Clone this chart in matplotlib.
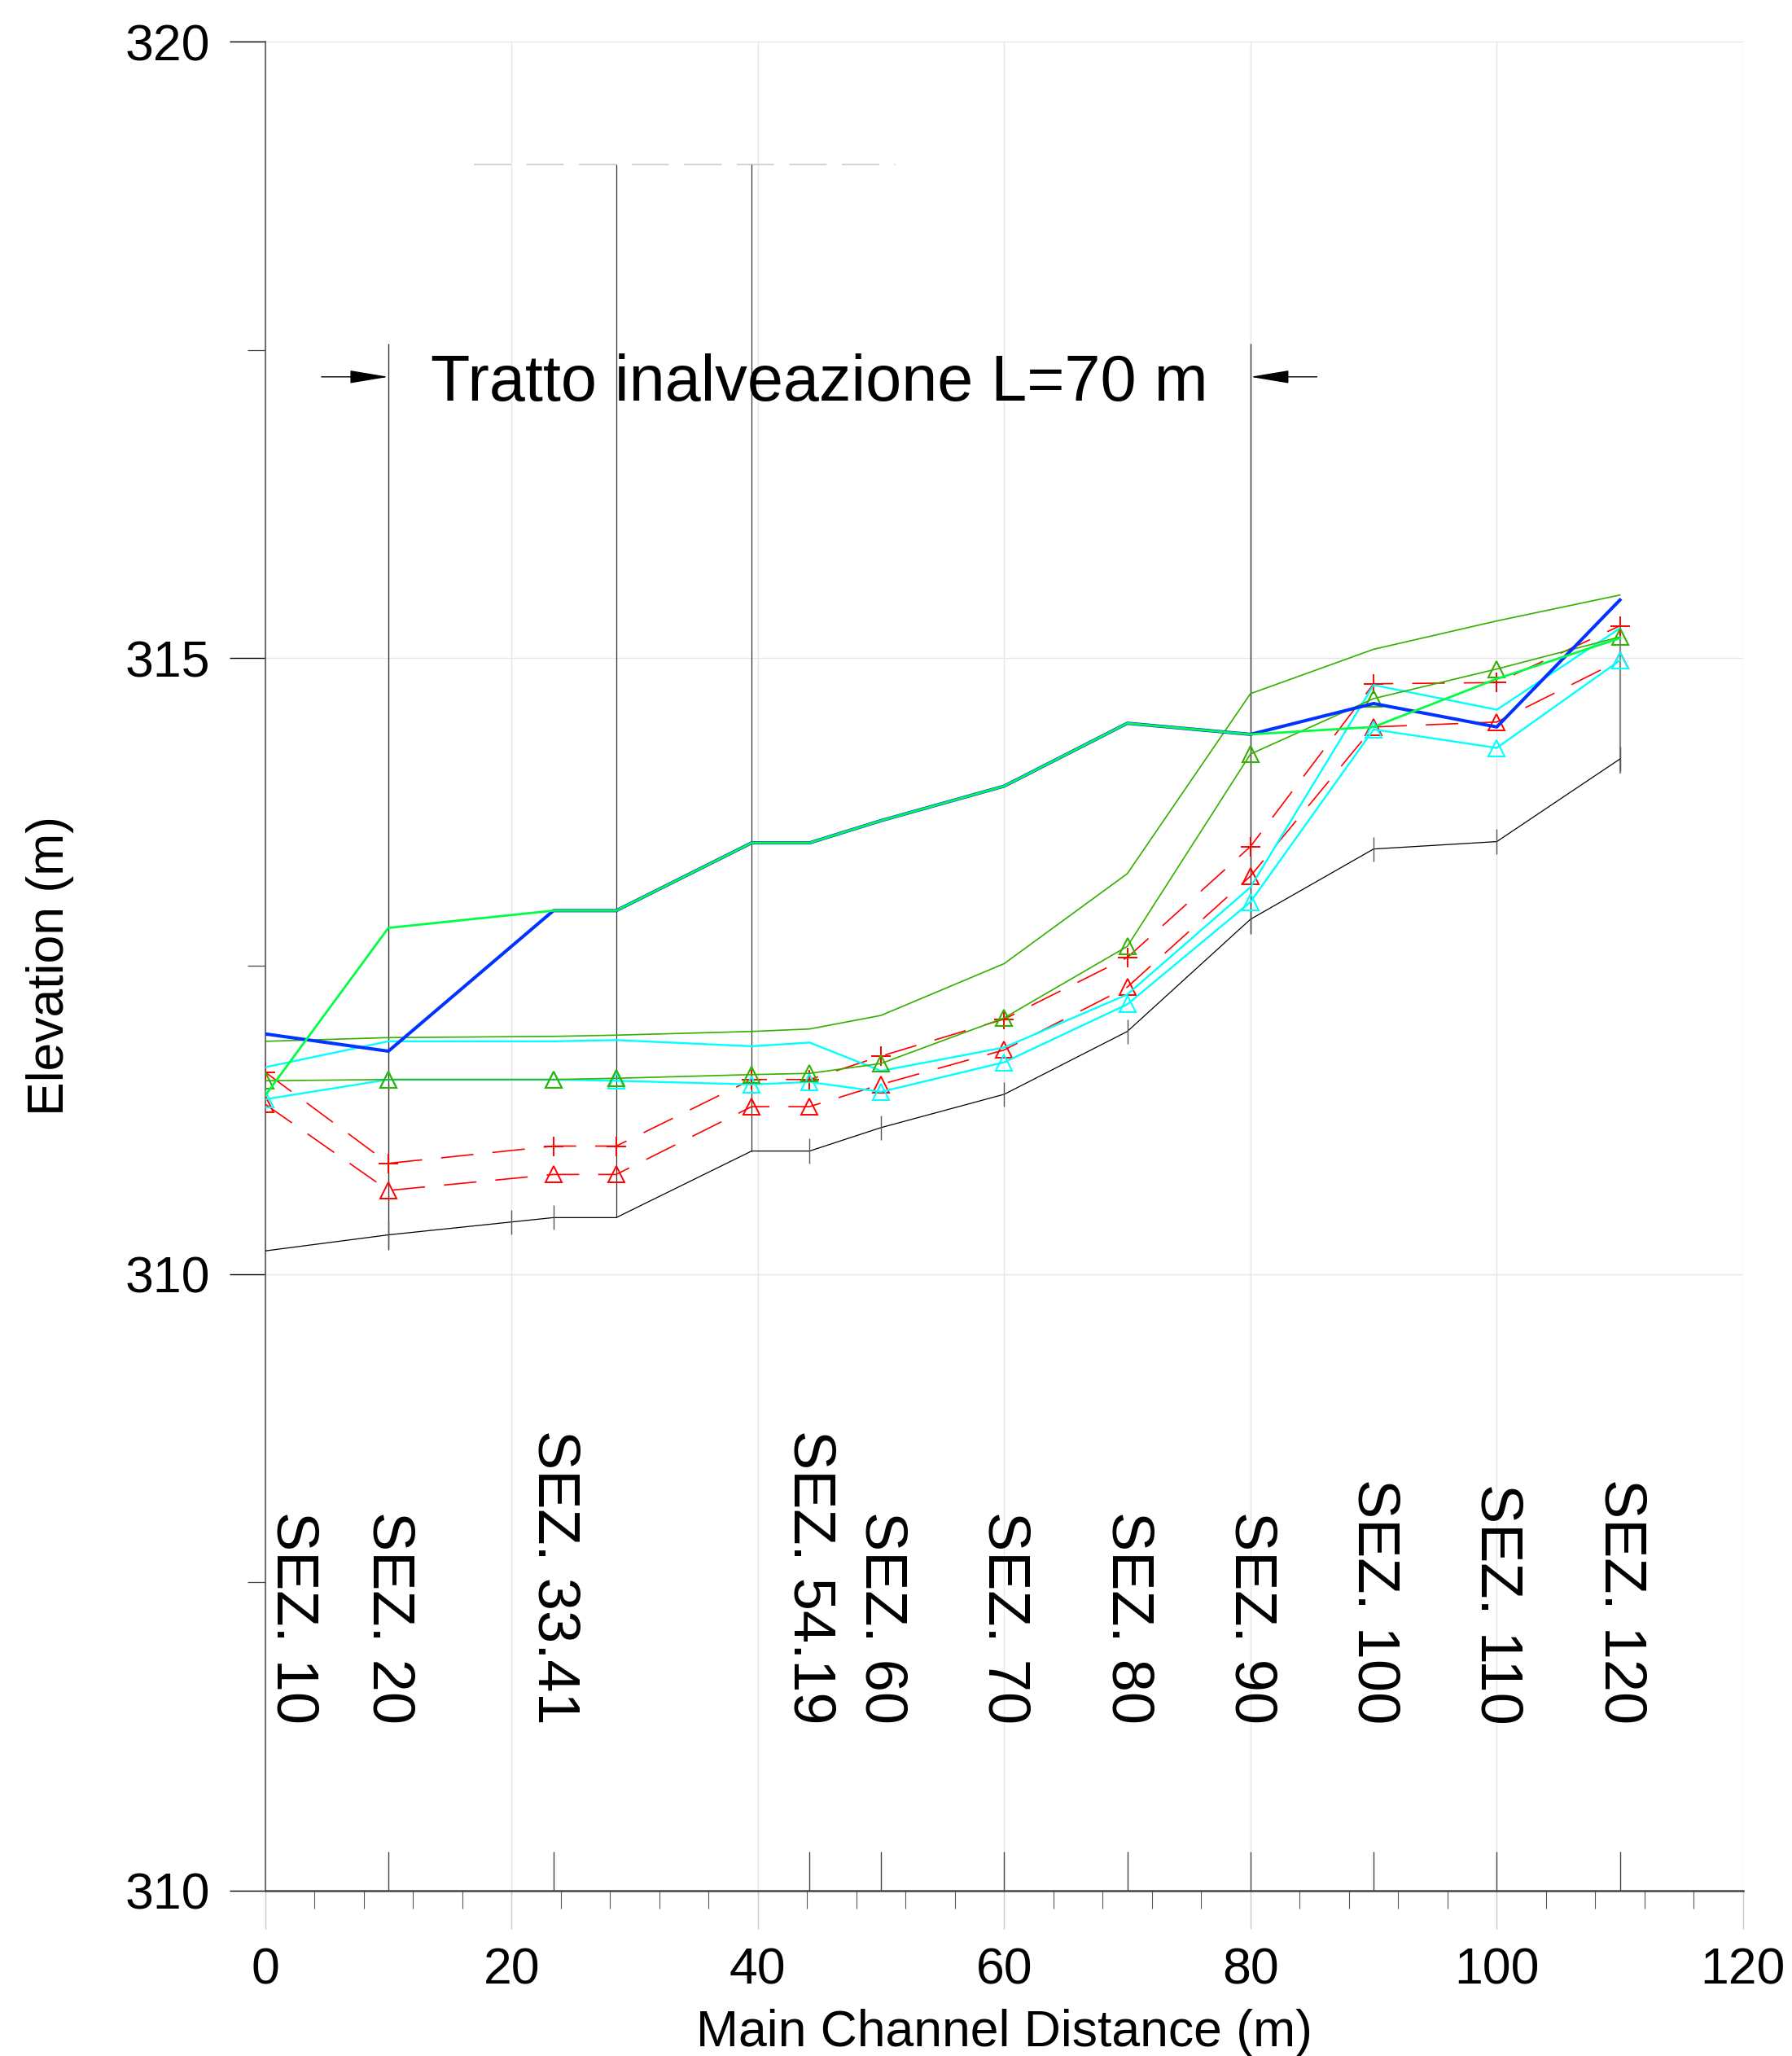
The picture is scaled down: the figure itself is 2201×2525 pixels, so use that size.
import numpy as np
import matplotlib
matplotlib.use("Agg")
import matplotlib.pyplot as plt

plt.rcParams['font.family'] = ['Liberation Sans', 'DejaVu Sans']

# -------------------------------------------------------------
# --- profile data
# -------------------------------------------------------------

# main channel distance of each cross section (m)
dist = [0, 10, 23.4, 28.5, 39.5, 44.2, 50, 60, 70, 80, 90, 100, 110]

ground     = [310.19, 310.32, 310.46, 310.46, 311.00, 311.00, 311.19, 311.46, 311.97, 312.88, 313.45, 313.51, 314.18]
bank_blue  = [311.95, 311.81, 312.95, 312.95, 313.50, 313.50, 313.68, 313.96, 314.47, 314.38, 314.63, 314.44, 315.47]
bank_green = [311.45, 312.81, 312.95, 312.95, 313.50, 313.50, 313.68, 313.96, 314.47, 314.38, 314.44, 314.83, 315.16]
eg_olive   = [311.89, 311.92, 311.93, 311.94, 311.97, 311.99, 312.10, 312.52, 313.25, 314.71, 315.07, 315.30, 315.51]
ws_olive   = [311.57, 311.58, 311.58, 311.59, 311.62, 311.63, 311.71, 312.08, 312.66, 314.22, 314.67, 314.91, 315.17]
eg_cyan    = [311.68, 311.89, 311.89, 311.90, 311.85, 311.88, 311.65, 311.84, 312.27, 313.14, 314.78, 314.58, 315.24]
ws_cyan    = [311.42, 311.58, 311.58, 311.57, 311.54, 311.56, 311.48, 311.72, 312.19, 313.02, 314.42, 314.27, 314.98]
eg_red     = [311.64, 310.90, 311.04, 311.04, 311.58, 311.58, 311.77, 312.07, 312.57, 313.47, 314.79, 314.80, 315.26]
ws_red     = [311.38, 310.68, 310.81, 310.81, 311.36, 311.36, 311.54, 311.82, 312.33, 313.23, 314.44, 314.48, 314.98]

# section labels and the sections they belong to
sez_labels = ["SEZ. 10", "SEZ. 20", "SEZ. 33.41", "SEZ. 54.19", "SEZ. 60", "SEZ. 70",
              "SEZ. 80", "SEZ. 90", "SEZ. 100", "SEZ. 110", "SEZ. 120"]
sez_idx = [0, 1, 2, 5, 6, 7, 8, 9, 10, 11, 12]

# small marks drawn on the ground line
ground_tick_x = [10, 20, 23.4, 44.2, 50, 60, 70, 80, 90, 100, 110]

# structure (culvert) between the two sections at 28.5 and 39.5
bridge_idx = [3, 4]
deck_elev = 319.0
deck_x = [16.96, 51.2]

# reach annotation
reach_x = [10, 80]
reach_top = 317.55
arrow_tail = [4.57, 85.4]
arrow_elev = 317.28
reach_text = "Tratto inalveazione L=70 m"

# gray mark at the last section
end_mark_x = 110
end_mark = [314.06, 315.23]

y_ticks = [305, 310, 315, 320]
y_tick_labels = ["310", "310", "315", "320"]

# -------------------------------------------------------------
# --- plotting
# -------------------------------------------------------------

fig = plt.figure(figsize=(22.01, 25.25), dpi=100)
ax = fig.add_axes([0.148, 0.0804, 0.8247, 0.8994])

ax.set_xlim(0, 120)
ax.set_ylim(305, 320)

ax.grid(True, which='major', color='#e6e6e6', lw=1.0, zorder=0)
for s in ('top', 'right'):
    ax.spines[s].set_visible(False)
ax.spines['left'].set_color('#555555')
ax.spines['left'].set_linewidth(1.2)
ax.spines['bottom'].set_color('#444444')
ax.spines['bottom'].set_linewidth(1.8)

ax.set_yticks(y_ticks)
ax.set_yticklabels(y_tick_labels)
ax.set_yticks([307.5, 312.5, 317.5], minor=True)
ax.set_xticks(np.arange(0, 121, 20))
ax.set_xticks(np.arange(0, 121, 4), minor=True)

ax.tick_params(axis='y', which='major', length=32, width=1.0, color='black',
               pad=17, labelsize=45)
ax.tick_params(axis='y', which='minor', length=16, width=0.9, color='#444444')
ax.tick_params(axis='x', which='major', length=34, width=1.0, color='#c8c8c8',
               pad=15, labelsize=45)
ax.tick_params(axis='x', which='minor', length=16, width=0.8, color='#555555')

ax.set_xlabel("Main Channel Distance (m)", fontsize=45, labelpad=13)
ax.set_ylabel("Elevation (m)", fontsize=45, labelpad=45)

# section marks above the x axis
sec_x = [dist[i] for i in sez_idx[1:]]
ax.vlines(sec_x, 0, 0.0211, transform=ax.get_xaxis_transform(),
          color='#444444', lw=1.0, zorder=2)

# structure deck and walls
ax.plot(deck_x, [deck_elev, deck_elev], color='#d4d4d4', lw=1.5,
        dashes=(22, 9), zorder=2)
for i in bridge_idx:
    ax.vlines(dist[i], ground[i], deck_elev, color='#333333', lw=0.9, zorder=2)

# reach limits with arrows
for xr, xt in zip(reach_x, arrow_tail):
    g = np.interp(xr, dist, ground)
    ax.vlines(xr, g - 0.12, reach_top, color='#333333', lw=1.0, zorder=2)
    ax.annotate("", xy=(xr, arrow_elev), xytext=(xt, arrow_elev),
                arrowprops=dict(arrowstyle='-|>,head_length=30,head_width=5',
                                mutation_scale=1, color='black', lw=1.0,
                                shrinkA=0, shrinkB=0))
ax.text(45.0, 317.09, reach_text, fontsize=57, ha='center', va='baseline')

ax.vlines(end_mark_x, end_mark[0], end_mark[1], color='#888888', lw=1.6, zorder=2)

# ground with its section marks
ax.plot(dist, ground, color='black', lw=0.9, zorder=3)
gt = np.interp(ground_tick_x, dist, ground)
ax.vlines(ground_tick_x, gt - 0.1, gt + 0.1, color='#555555', lw=1.0, zorder=3)

red_style = dict(color='red', lw=1.2, dashes=(24, 14), mfc='none', mec='red', mew=1.4, zorder=4)
ax.plot(dist, ws_red, marker='^', ms=14, **red_style)
ax.plot(dist, eg_red, marker='+', ms=17, **red_style)

ax.plot(dist, eg_cyan, color='#00ffff', lw=1.7, zorder=5)
ax.plot(dist, ws_cyan, color='#00ffff', lw=1.7, marker='^', ms=14, mfc='none',
        mec='#00ffff', mew=1.5, zorder=5)

ax.plot(dist, eg_olive, color='#33b000', lw=1.2, zorder=6)
ax.plot(dist, ws_olive, color='#33b000', lw=1.2, marker='^', ms=14, mfc='none',
        mec='#33b000', mew=1.5, zorder=6)

ax.plot(dist, bank_blue, color='#0033ff', lw=2.9, zorder=7)
ax.plot(dist, bank_green, color='#00ff44', lw=2.0, zorder=8)

# section labels, read top to bottom
for lab, i in zip(sez_labels, sez_idx):
    if i == 0:
        ax.text(dist[i], 306.35, lab, rotation=270, fontsize=52, ha='left', va='bottom')
    else:
        ax.text(dist[i], 306.35, lab, rotation=270, fontsize=52, ha='center', va='bottom')

fig.savefig("out.png", dpi=100)
